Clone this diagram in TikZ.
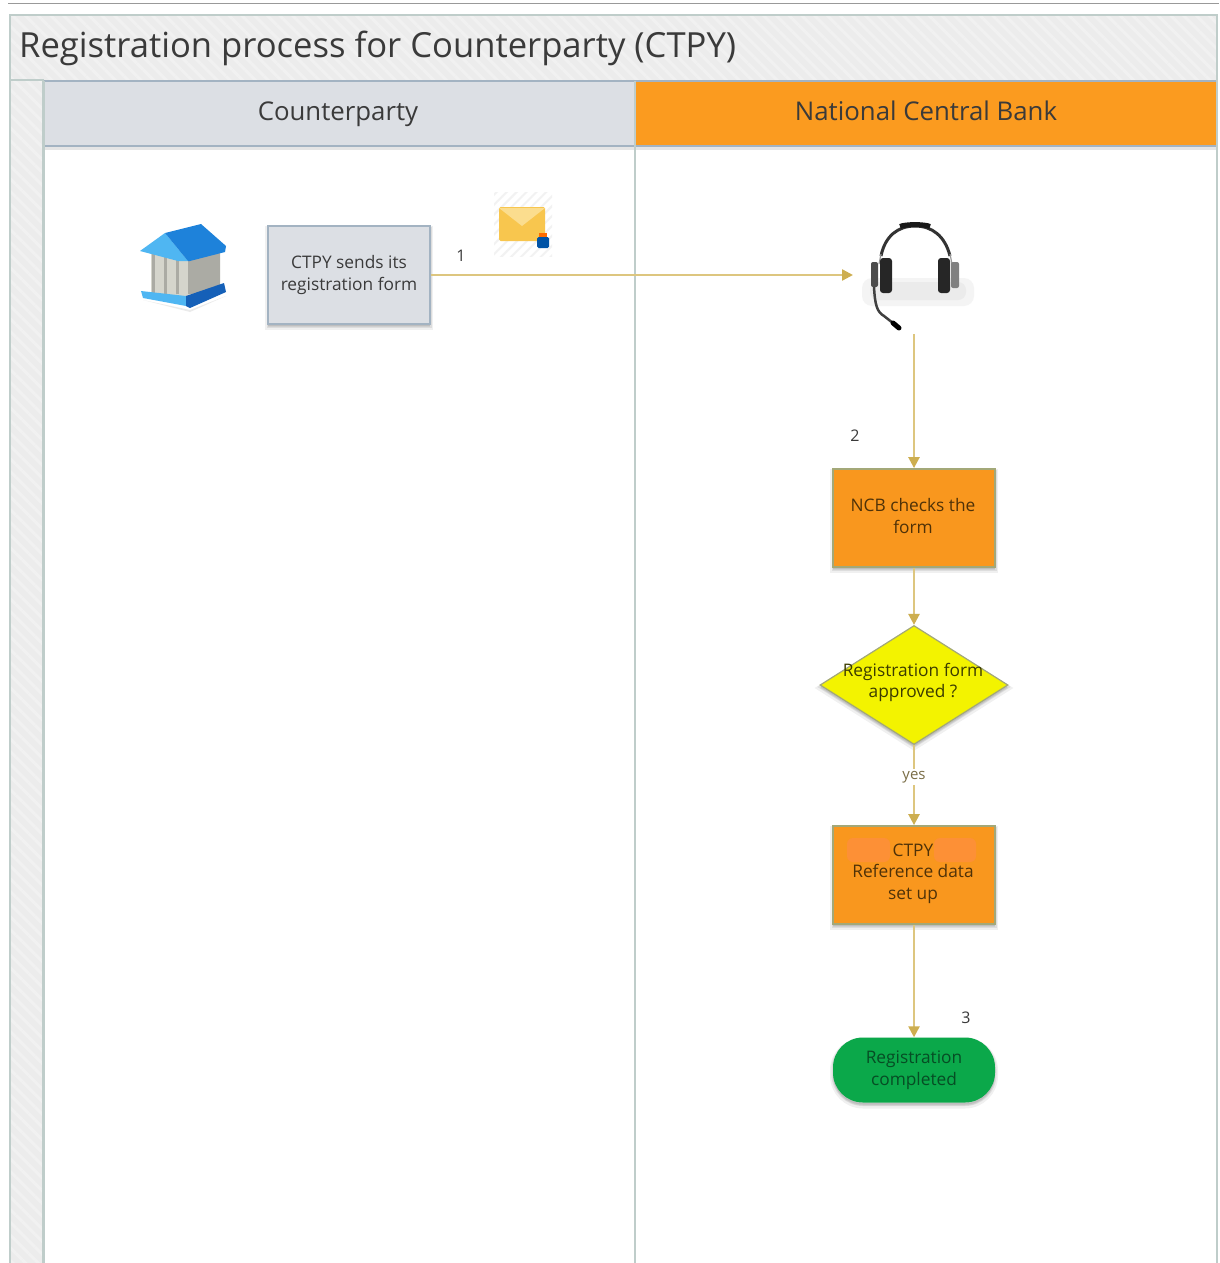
\documentclass[tikz,border=0pt]{standalone}
\usepackage{fontspec}
\setmainfont{Open Sans}
\usetikzlibrary{arrows.meta,shapes.geometric,patterns.meta}
\definecolor{band}{HTML}{ECECEC}
\definecolor{bandstripe}{HTML}{F1F1F1}
\definecolor{bandline}{HTML}{BFCDCA}
\definecolor{hdrgrey}{HTML}{DCDFE4}
\definecolor{hdrline}{HTML}{A3B3C2}
\definecolor{nborange}{HTML}{FB9B1F}
\definecolor{boxorange}{HTML}{F9971E}
\definecolor{boxpatch}{HTML}{FD9036}
\definecolor{boxedge}{HTML}{A3A878}
\definecolor{conn}{HTML}{DDC67F}
\definecolor{connhead}{HTML}{CDAE50}
\definecolor{txt}{HTML}{3A3A3A}
\definecolor{txtorange}{HTML}{4F3208}
\definecolor{txtyellow}{HTML}{3C3C00}
\definecolor{txtgreen}{HTML}{064D24}
\definecolor{greenbox}{HTML}{0BA84A}
\definecolor{ydia}{HTML}{F3F300}
\definecolor{bankL}{HTML}{4FB6F2}
\definecolor{bankR}{HTML}{1E82DA}
\definecolor{bankD}{HTML}{1560B8}
\definecolor{bankC}{HTML}{D5D5CC}
\definecolor{bankS}{HTML}{ABABA4}
\definecolor{envA}{HTML}{F8C64E}
\definecolor{envB}{HTML}{FBDD8E}
\tikzset{
 lbl/.style={font=\fontsize{17.3}{21.5}\selectfont,text=txt,align=center,inner sep=0pt},
 numlbl/.style={font=\fontsize{16}{19}\selectfont,text=txt,inner sep=0pt},
 flowbox/.style={draw=#1,line width=1.8pt,minimum width=162pt,minimum height=98pt,inner sep=0pt,align=center,lbl},
 shadowed/.style={preaction={draw=black,fill=black,opacity=.06,line width=6pt,transform canvas={yshift=-3pt}},preaction={draw=black,fill=black,opacity=.08,line width=3pt,transform canvas={yshift=-2pt}}},
 conline/.style={draw=conn,line width=2.4pt,-{Triangle[length=11pt,width=11pt,fill=connhead,color=connhead]}},
 hdrtext/.style={font=\fontsize{25.8}{31}\selectfont,text=txt,inner sep=0pt,anchor=base},
 stripes/.style={pattern={Lines[angle=-45,distance=9pt,line width=3pt]},pattern color=bandstripe},
}
\begin{document}
\begin{tikzpicture}[x=1pt,y=-1pt]
\useasboundingbox (0,0) rectangle (1219,1263);
\fill[white] (0,0) rectangle (1219,1263);
\draw[black!40,line width=1.6pt] (8,3.5) -- (1219,3.5);
% pool
\fill[band] (10,15) rectangle (1217,80);
\fill[band] (10,80) rectangle (43,1263);
\fill[stripes] (10,15) rectangle (1217,80);
\fill[stripes] (10,80) rectangle (43,1263);
\draw[bandline,line width=1.8pt] (10,1263) -- (10,15) -- (1217,15) -- (1217,1263);
\draw[bandline,line width=1.8pt] (10,80) -- (44,80);
\node[anchor=base west,font=\fontsize{34.6}{42}\selectfont,text=txt,inner sep=0pt] (title) at (19,58) {Registration process for Counterparty (CTPY)};
% lanes
\fill[hdrgrey] (44,81) rectangle (635,146);
\fill[nborange] (635,81) rectangle (1216,146);
\fill[black!10] (44,147) rectangle (1216,150);
\draw[hdrline,line width=2pt] (44,80.5) -- (1216,80.5);
\draw[hdrline,line width=2.4pt] (44,146) -- (1216,146);
\draw[bandline,line width=2.2pt] (43.5,81) -- (43.5,1263);
\draw[bandline,line width=2pt] (635,81) -- (635,1263);
\node[hdrtext] (cp) at (338,120) {Counterparty};
\node[hdrtext] (ncb) at (926,120) {National Central Bank};
% bank icon
\fill[black!25,opacity=.3] (143,300) -- (190,310) -- (226,296) -- (190,312) -- cycle;
\fill[bankC] (151,250) rectangle (191,296);
\fill[bankS] (191,253) -- (220,244) -- (220,288) -- (191,298) -- cycle;
\foreach \i in {152,164,176,188}{\fill[bankS] (\i,252) rectangle (\i+2.5,294);}
\fill[bankL] (141,291) -- (186,296) -- (186,306) -- (143,298) -- cycle;
\fill[bankD] (186,296) -- (224,283) -- (226,292) -- (190,308) -- (186,306) -- cycle;
\fill[bankL] (140,251) -- (165,233) -- (188,261) -- (178,261) -- cycle;
\fill[bankR] (165,233) -- (201,224) -- (226,246) -- (225,252) -- (190,261) -- (188,261) -- cycle;
% envelope icon
\fill[pattern={Lines[angle=45,distance=7pt,line width=2pt]},pattern color=black!5] (494,192) rectangle (552,256);
\fill[envA,rounded corners=1.5pt] (499,207) rectangle (545,241);
\fill[envB] (499,208) -- (522,226) -- (545,208) -- cycle;
\fill[orange!85!red] (539,233) rectangle (547,238);
\fill[blue!50!cyan!65!black,rounded corners=1.5pt] (537,237) rectangle (549,248);
% headset icon
\fill[black!8,opacity=.5,rounded corners=10pt] (862,278) rectangle (974,306);
\fill[black!10,opacity=.6,rounded corners=8pt] (870,282) rectangle (966,300);
\draw[black!80,line width=3pt] (881,256) .. controls (885,236) and (898,226) .. (915,226) .. controls (932,226) and (945,236) .. (950,256);
\draw[black!90,line width=5pt] (900,226.5) .. controls (905,224) and (925,224) .. (930,226.5);
\draw[black!40,line width=1.2pt] (879,264) -- (881,254);
\draw[black!40,line width=1.2pt] (952,264) -- (950,254);
\fill[black!70,rounded corners=2pt] (871,262) rectangle (878,287);
\fill[black!85,rounded corners=3pt] (880,258) rectangle (892,293);
\fill[black!85,rounded corners=3pt] (938,258) rectangle (950,293);
\fill[black!50,rounded corners=2pt] (951,262) rectangle (959,288);
\draw[black!75,line width=2.5pt] (874,287) .. controls (875,305) and (877,312) .. (884,316) -- (898,327);
\draw[black,line width=5pt,line cap=round] (893,323) -- (899,328);
% nodes
\node[flowbox=hdrline,fill=hdrgrey,shadowed] (send) at (349,275) {CTPY sends its\\registration form};
\node[flowbox=boxedge,fill=boxorange,shadowed] (check) at (914,518) {};
\node[lbl,text=txtorange] (checktxt) at (913,516) {NCB checks the\\form};
\node[diamond,aspect=1.58,fill=ydia,draw=boxedge,line width=1.2pt,minimum width=188pt,minimum height=119pt,inner sep=0pt,shadowed] (dec) at (914,685) {};
\node[lbl,text=txtyellow] (dectxt) at (913,682.5) {Registration form\\approved ?};
\node[flowbox=boxedge,fill=boxorange,shadowed] (setup) at (914,875) {};
\fill[boxpatch,rounded corners=6pt] (847,838) rectangle (890,862);
\fill[boxpatch,rounded corners=6pt] (934,838) rectangle (976,862);
\node[lbl,text=txtorange] (setuptxt) at (913,873.5) {CTPY\\Reference data\\set up};
\node[lbl,fill=greenbox,rounded corners=30pt,minimum width=162pt,minimum height=65pt,shadowed,text=txtgreen] (done) at (914,1070) {Registration\\completed};
\coordinate (hs) at (853,275);
\coordinate (hsb) at (914,334);
% connectors
\draw[conline] (send.east) -- (hs);
\draw[conline] (hsb) -- (check.north);
\draw[conline] (check.south) -- (dec.north);
\draw[conline] (dec.south) -- node[pos=.4,fill=white,inner sep=2pt,font=\fontsize{15}{18}\selectfont,text=conn!55!black] {yes} (setup.north);
\draw[conline] (setup.south) -- (done.north);
% numbers
\node[numlbl] (n1) at (461,256) {1};
\node[numlbl] (n2) at (855,436) {2};
\node[numlbl] (n3) at (966,1018) {3};
\end{tikzpicture}
\end{document}
